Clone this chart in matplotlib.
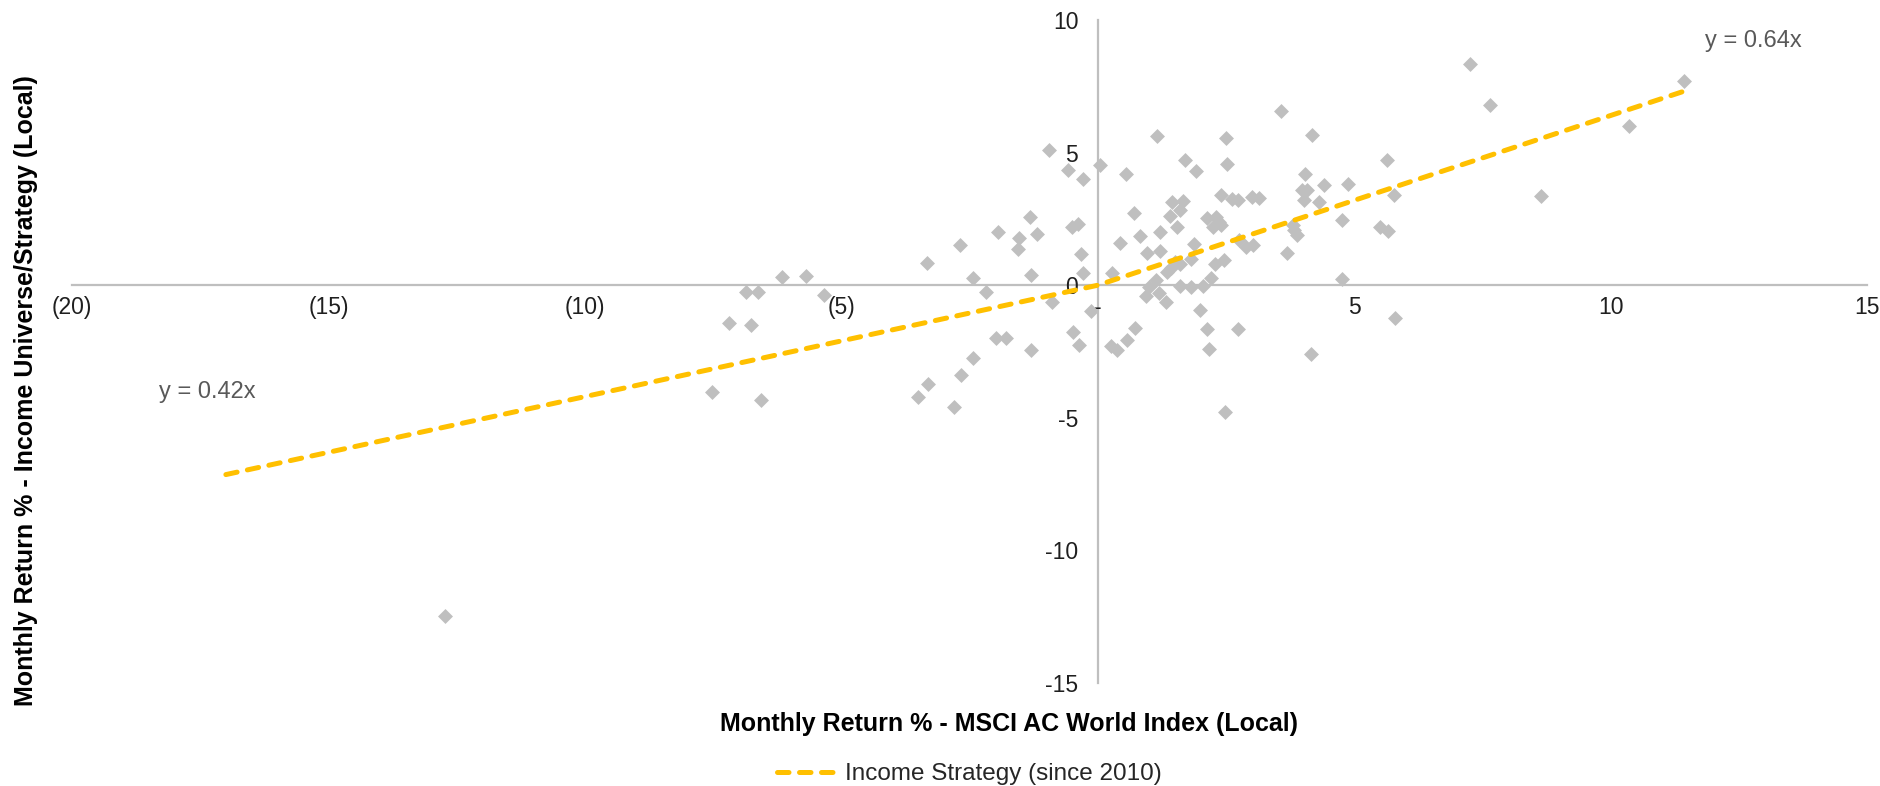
import matplotlib
matplotlib.use("Agg")
import matplotlib.pyplot as plt
from matplotlib import font_manager
import numpy as np

# Monthly returns (%): MSCI AC World Index (local) vs. income strategy
msci_return = [
    -0.95, -0.58, -0.29, -1.33, -1.95, -1.54, -1.19, -1.56, -0.50, -0.39,
    -0.32, -0.28, -2.68, -3.33, -2.44, -1.31, -2.17, -0.89, -0.13, -0.48,
    -0.37, -1.99, -1.78, -1.31, -2.43, -2.66, -3.31, -3.51, -2.81, -6.15,
    -5.68, -6.85, -6.63, -5.34, -7.18, -6.77, -7.52, -6.57, -12.73,
    3.57, 1.15, 2.51, 4.17, 0.04, 0.56, 1.70, 2.53, 1.92, 5.64,
    4.05, 0.70, 1.45, 1.66, 1.60, 1.40, 1.55, 2.41, 2.62, 2.74,
    3.00, 3.14, 3.99, 4.08, 4.02, 4.41, 4.88, 4.32, 5.78, 4.76,
    5.51, 5.66, 2.13, 2.31, 2.25, 2.41, 2.36, 3.81, 3.83, 3.89,
    0.44, 0.83, 1.22, 0.96, 1.21, 1.87, 2.75, 2.90, 3.03, 3.69,
    1.51, 1.81, 1.36, 1.42, 1.60, 2.47, 2.28, 2.20, 0.28, 1.14,
    0.99, 1.60, 1.81, 2.05, 0.95, 1.19, 1.34, 4.76, 1.99, 0.73,
    0.57, 0.26, 0.38, 2.14, 2.73, 2.16, 4.15, 5.79, 2.48,
    7.26, 7.65, 10.35, 11.44, 8.65,
]
income_return = [
    5.11, 4.36, 4.00, 2.58, 2.02, 1.80, 1.93, 1.36, 2.20, 2.30,
    1.16, 0.47, 1.53, 0.85, 0.29, 0.39, -0.26, -0.62, -0.99, -1.78,
    -2.26, -1.98, -1.98, -2.43, -2.73, -3.40, -3.71, -4.21, -4.59, 0.31,
    0.36, -0.26, -0.26, -0.36, -1.43, -1.49, -4.02, -4.31, -12.47,
    6.56, 5.61, 5.55, 5.68, 4.52, 4.18, 4.74, 4.56, 4.31, 4.71,
    4.18, 2.71, 3.14, 3.18, 2.83, 2.61, 2.18, 3.42, 3.24, 3.21,
    3.33, 3.30, 3.58, 3.61, 3.23, 3.77, 3.83, 3.12, 3.42, 2.45,
    2.20, 2.04, 2.52, 2.56, 2.20, 2.27, 2.38, 2.27, 2.08, 1.89,
    1.60, 1.85, 2.02, 1.20, 1.29, 1.55, 1.70, 1.45, 1.50, 1.20,
    0.89, 0.98, 0.51, 0.64, 0.79, 0.95, 0.79, 0.26, 0.47, 0.20,
    -0.08, -0.03, -0.05, -0.03, -0.40, -0.28, -0.62, 0.24, -0.95, -1.62,
    -2.06, -2.28, -2.46, -1.65, -1.65, -2.41, -2.58, -1.24, -4.79,
    8.35, 6.78, 6.01, 7.69, 3.36,
]

# Separate regression slopes for down and up markets
slope_down = 0.42
slope_up = 0.64
fit_x = [-17.0, 0.0, 11.5]

x_ticks = [-20, -15, -10, -5, 0, 5, 10, 15]
x_tick_labels = ["(20)", "(15)", "(10)", "(5)", "-", "5", "10", "15"]
y_ticks = [10, 5, 0, -5, -10, -15]
y_tick_labels = ["10", "5", "0", "-5", "-10", "-15"]

series_label = "Income Strategy (since 2010)"
x_title = "Monthly Return % - MSCI AC World Index (Local)"
y_title = "Monthly Return % - Income Universe/Strategy (Local)"

# Fonts: use a narrow face for titles/legend when one is installed
installed = {f.name for f in font_manager.fontManager.ttflist}
if "Liberation Sans Narrow" in installed:
    narrow_family, title_size, legend_size = "Liberation Sans Narrow", 21.5, 21
else:
    narrow_family, title_size, legend_size = "Liberation Sans", 18, 17.5
plt.rcParams["font.family"] = ["Liberation Sans", "DejaVu Sans"]

GREY = "#BFBFBF"
GOLD = "#FFC000"

fig = plt.figure(figsize=(18.8, 7.86), dpi=100)
ax = fig.add_axes([0.0383, 0.1310, 0.9548, 0.8435])

ax.scatter(msci_return, income_return, marker="D", s=58, color=GREY,
           linewidths=0, zorder=3)

fx = np.array(fit_x)
fy = np.where(fx < 0, slope_down * fx, slope_up * fx)
line, = ax.plot(fx, fy, color=GOLD, lw=3.6, dashes=(2.3, 2.1),
                dash_capstyle="round", zorder=4, label=series_label)

ax.text(-17.37, -4.01, f"y = {slope_down:.2f}x", ha="center", va="center",
        fontsize=17, color="#595959")
ax.text(12.78, 9.22, f"y = {slope_up:.2f}x", ha="center", va="center",
        fontsize=17, color="#595959")

ax.set_xlim(-20, 15)
ax.set_ylim(-15, 10)
ax.set_xticks(x_ticks)
ax.set_xticklabels(x_tick_labels)
ax.set_yticks(y_ticks)
ax.set_yticklabels(y_tick_labels)

for side in ("top", "right"):
    ax.spines[side].set_visible(False)
for side in ("left", "bottom"):
    ax.spines[side].set_position(("data", 0))
    ax.spines[side].set_color(GREY)
    ax.spines[side].set_linewidth(1.6)
    ax.spines[side].set_zorder(1)

ax.tick_params(axis="x", length=0, pad=8, labelsize=16.5, labelcolor="#1f1f1f")
ax.tick_params(axis="y", length=0, pad=14, labelsize=16.5, labelcolor="#1f1f1f")
ax.patch.set_visible(False)

fig.text(1009 / 1880, 1 - 724 / 786, x_title, ha="center", va="center",
         fontsize=title_size, fontweight="bold", family=narrow_family,
         color="black")
fig.text(26 / 1880, 1 - 391 / 786, y_title, ha="center", va="center",
         rotation=90, fontsize=title_size, fontweight="bold",
         family=narrow_family, color="black")

leg = fig.legend(handles=[line], loc="center",
                 bbox_to_anchor=(969 / 1880, 1 - 774 / 786),
                 frameon=False, handlelength=2.6, handletextpad=0.2,
                 prop={"family": narrow_family, "size": legend_size})
for t in leg.get_texts():
    t.set_color("#262626")

fig.savefig("out.png", dpi=100)
